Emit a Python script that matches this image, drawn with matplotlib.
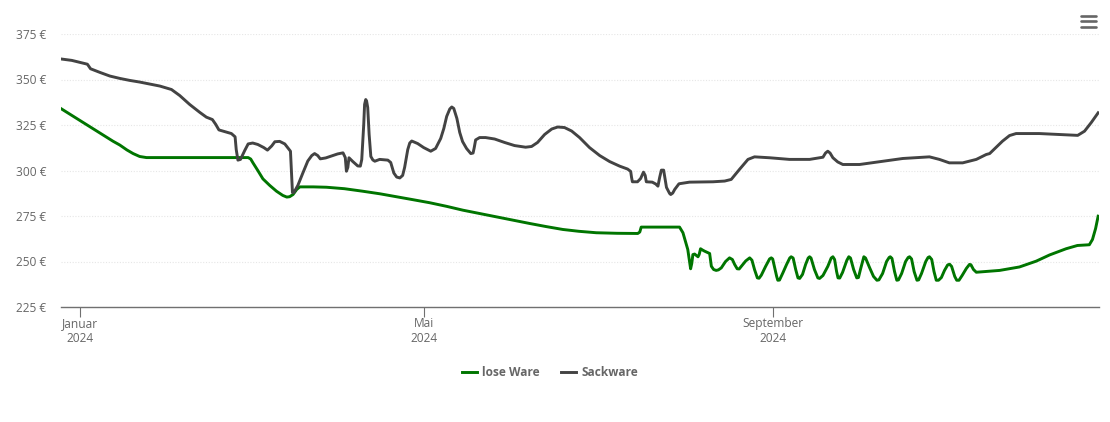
# Preis fuer lose Ware und Sackware ueber das Jahr 2024
import matplotlib
matplotlib.use('Agg')
import matplotlib.pyplot as plt
from matplotlib.lines import Line2D

# days since 1 Jan 2024, price in euro
lose_days = [-6.9, 11.5, 13.9, 16.4, 18.6, 20.9, 23.3, 59.1, 60.0, 60.8, 62.5, 64.3, 66.7, 69.1, 71.3, 72.7, 73.7,
             74.9, 76.2, 77.3, 82.0, 86.7, 93.0, 99.5, 105.5, 111.3, 117.0, 123.0, 129.0, 134.7, 140.5, 146.5, 152.5,
             158.2, 164.0, 169.9, 175.5, 181.7, 189.0, 196.3, 197.0, 197.5,
             198.0, 211.0, 212.2, 213.9, 214.5, 214.9, 215.3, 215.7, 216.3, 217.5, 217.9, 218.4, 219.1, 219.8,
             221.6, 221.9, 222.2, 223.0, 223.9, 224.7, 225.7, 227.2, 228.6, 229.6, 230.4, 231.3, 232.0, 232.8,
             234.3, 235.7, 236.5, 237.4, 238.4, 239.0, 239.8, 241.3, 242.7, 243.3, 243.8, 244.5, 245.2, 245.6,
             246.2, 247.4, 248.7, 249.8, 250.3, 251.0, 251.9, 252.7, 253.3, 254.3, 255.4, 256.3, 256.8, 257.3,
             258.5, 259.7, 260.3, 261.5, 263.2, 264.4, 265.0, 265.6, 266.3, 266.8, 267.4, 268.4, 269.9, 270.6,
             271.2, 272.3, 273.4, 274.0, 274.7, 275.9, 276.5, 277.9, 279.3, 280.5, 281.2, 282.5, 283.9, 284.8,
             285.2, 285.8, 286.7, 287.5, 288.1, 289.2, 290.6, 291.5, 292.0, 292.7, 293.6, 294.6, 295.2, 296.2,
             297.7, 298.5, 299.0, 299.8, 300.6, 301.4, 302.2, 303.2, 304.3, 305.4, 306.1, 306.8, 307.9, 308.6,
             309.4, 310.5, 312.0, 313.1, 313.6, 314.5, 315.5, 323.7, 330.7, 336.6, 341.3, 347.1, 351.1, 355.3,
             356.4, 357.5, 358.4]
lose_prices = [334.1, 316.1, 314.0, 311.3, 309.3, 307.7, 307.1, 307.1, 306.3, 304.2, 300.0, 295.4, 291.8, 288.6,
               286.3, 285.4, 285.6, 286.8, 289.6, 291.0, 291.0, 290.8, 290.0, 288.6, 287.2, 285.6, 284.0, 282.3, 280.3,
               278.2, 276.4, 274.6, 272.7, 270.9, 269.2, 267.6, 266.6, 265.8, 265.5, 265.4, 266.2, 268.9, 268.9,
               268.9, 265.8, 256.6, 250.0, 246.0, 248.9, 253.8, 254.1, 252.6,
               253.8, 257.0, 256.3, 255.7, 254.4, 251.1, 247.4, 245.6, 245.1, 245.4, 246.5, 250.0, 252.0, 251.1,
               248.4, 246.0, 245.9, 247.4, 250.3, 252.0, 250.7, 245.6, 241.0, 240.8, 242.5, 247.3, 251.4, 252.0,
               251.4, 246.7, 241.8, 239.7, 239.8, 243.8, 248.4, 251.9, 252.6, 251.9, 245.6, 241.0, 240.7, 242.9,
               248.4, 251.9, 252.6, 251.9, 245.6, 241.0, 240.7, 242.3, 247.3, 251.9, 252.6, 251.1, 244.5, 241.0,
               240.9, 244.0, 250.6, 252.6, 251.9, 245.6, 241.0, 241.2, 245.6, 252.6, 251.9, 246.7, 241.8, 239.7,
               239.9, 243.4, 250.0, 252.2, 252.6, 251.7, 244.5, 239.7, 239.9, 243.4, 250.0, 252.2, 252.6, 251.4,
               244.5, 239.7, 239.9, 243.4, 250.0, 252.2, 252.6, 251.1, 244.5, 239.7, 239.7, 241.2, 245.1, 248.1,
               248.5, 247.3, 241.8, 239.7, 239.7, 242.3, 246.2, 248.4, 248.2, 245.6, 244.1, 245.1, 247.0, 250.2,
               253.6, 257.0, 258.8, 259.2, 262.1, 268.1, 274.9]

sack_days = [-6.9, -3.0, -0.2, 2.5, 3.6, 6.9, 10.4, 13.9, 17.4, 20.9, 24.5, 28.0, 32.1, 35.0, 38.5, 42.1, 44.4, 46.5,
             47.7, 48.8, 51.2, 53.2, 54.5, 54.9, 55.5, 56.4, 57.9, 59.1, 60.7, 62.5, 64.6, 65.9, 67.4, 68.5, 70.2,
             72.0, 73.0, 74.0, 74.3, 74.7, 75.2, 76.6, 78.3, 80.1, 81.5, 82.5, 83.6, 84.5, 86.4, 88.5, 90.6, 92.5,
             93.3, 93.7, 94.2, 94.6, 95.9, 97.7, 98.6, 99.1, 99.8, 100.1, 100.5, 100.8, 101.2, 101.7, 102.3, 103.0,
             103.7, 105.4, 108.3, 109.3, 110.4, 111.4, 112.5, 113.5, 114.2, 115.3, 116.0, 116.7, 118.8, 120.9,
             123.4, 125.1, 126.9, 128.0, 129.0, 130.1, 130.8, 131.5, 132.6, 133.6, 134.6, 136.0, 137.5, 138.3,
             138.7, 139.2, 140.6, 142.7, 145.9, 149.4, 152.9, 156.8, 158.9, 161.0, 163.5, 166.0, 168.1, 170.5,
             173.0, 175.8, 179.3, 182.9, 186.4, 189.9, 192.7, 193.8, 194.1, 194.4, 196.2, 197.3, 198.3, 198.9,
             199.3, 201.4, 202.6, 203.4, 204.0, 204.6, 205.4, 205.9, 206.4, 207.5, 207.9, 208.6, 209.3, 210.8,
             214.5, 222.8, 226.9, 229.2, 232.1, 235.1, 237.4, 242.7, 249.7, 256.8, 261.5, 262.4, 263.2, 264.0,
             265.0, 266.7, 268.5, 274.4, 281.4, 289.6, 299.0, 302.5, 306.0, 310.7, 315.5, 319.0, 320.2, 324.7,
             327.2, 329.5, 337.7, 344.8, 351.2, 353.6, 356.0, 358.4]
sack_prices = [361.3, 360.5, 359.4, 358.4, 355.9, 353.9, 351.9, 350.6, 349.5, 348.6, 347.5, 346.4, 344.5, 341.2,
               336.3, 331.9, 329.3, 328.0, 325.3, 322.3, 321.2, 320.3, 318.5, 311.5, 305.7, 306.1, 311.0, 314.6,
               315.1, 314.3, 312.6, 311.2, 313.5, 315.8, 316.0, 314.6, 312.6, 310.6, 300.6, 287.9, 287.9, 291.8,
               298.4, 305.2, 308.2, 309.3, 308.2, 306.4, 306.9, 308.0, 309.1, 309.7, 307.1, 299.6, 301.7, 307.0,
               305.0, 302.5, 302.4, 306.0, 325.3, 336.3, 339.0, 338.2, 334.6, 319.8, 307.7, 305.8, 305.1, 306.1,
               305.7, 304.4, 298.6, 296.4, 295.9, 297.3, 301.7, 311.5, 315.1, 316.2, 314.8, 312.6, 310.6, 312.1,
               317.6, 323.1, 329.7, 333.8, 334.9, 334.1, 328.6, 320.9, 315.9, 312.1, 309.3, 309.6, 312.5, 316.8,
               318.1, 318.1, 317.3, 315.4, 313.7, 312.8, 313.2, 315.4, 319.8, 322.8, 323.9, 323.6, 321.7, 318.1,
               312.6, 308.2, 304.9, 302.4, 300.8, 299.5, 296.2, 293.8, 293.8, 295.6, 299.1, 297.3, 293.8, 293.6,
               292.6, 291.4, 296.2, 300.2, 300.2, 295.6, 290.7, 287.4, 286.8, 287.6, 289.6, 292.7, 293.6, 293.8,
               294.2, 295.1, 300.6, 306.1, 307.5, 307.0, 306.1, 306.1, 307.3, 309.6, 310.6, 309.6, 307.0, 304.7,
               303.3, 303.3, 304.8, 306.6, 307.5, 306.1, 304.2, 304.2, 306.1, 308.8, 309.3, 316.1, 319.2, 320.3,
               320.3, 319.8, 319.3, 321.6, 326.4, 331.7]

y_ticks = [225, 250, 275, 300, 325, 350, 375]
x_ticks = [0, 121, 244]
x_labels = ['Januar\n2024', 'Mai\n2024', 'September\n2024']

plt.rcParams['font.family'] = ['Open Sans', 'DejaVu Sans']

W, H = 1110, 422
fig = plt.figure(figsize=(W / 100, H / 100), dpi=100)
ax = fig.add_axes([61 / W, 1 - 307 / H, 1038 / W, 273 / H])

# Plot the two price series
ax.plot(lose_days, lose_prices, color='#007500', lw=2.1, solid_joinstyle='round', label='lose Ware')
ax.plot(sack_days, sack_prices, color='#434343', lw=2.1, solid_joinstyle='round', label='Sackware')

ax.set_xlim(-6.8, 358.7)
ax.set_ylim(225, 375)
ax.set_yticks(y_ticks)
ax.set_yticklabels([str(v) + ' €' for v in y_ticks])
ax.set_xticks(x_ticks)
ax.set_xticklabels(x_labels, linespacing=1.12)

ax.grid(axis='y', color='#e6e6e6', lw=0.8, ls=(0, (1, 1.5)))
ax.set_axisbelow(True)
for side in ['top', 'right', 'left']:
    ax.spines[side].set_visible(False)
ax.spines['bottom'].set_color('#707070')
ax.spines['bottom'].set_linewidth(1.0)
ax.tick_params(axis='y', length=0, pad=10.8, labelsize=8.6, labelcolor='#666666')
ax.tick_params(axis='x', length=7, width=0.8, color='#707070', pad=0.5, labelsize=8.6, labelcolor='#666666')

leg = ax.legend(loc='center', bbox_to_anchor=(550 / W, 1 - 372.5 / H), bbox_transform=fig.transFigure, ncol=2,
                frameon=False, handlelength=1.25, handletextpad=0.45, columnspacing=1.75,
                prop={'size': 8.6, 'weight': 'bold'})
for t in leg.get_texts():
    t.set_color('#666666')

# Menu icon in the upper right corner
for y in [16, 21, 26.5]:
    fig.add_artist(Line2D([1081 / W, 1096 / W], [1 - y / H, 1 - y / H], color='#666666', lw=1.9,
                          solid_capstyle='round'))

fig.savefig('out.png', dpi=100)
